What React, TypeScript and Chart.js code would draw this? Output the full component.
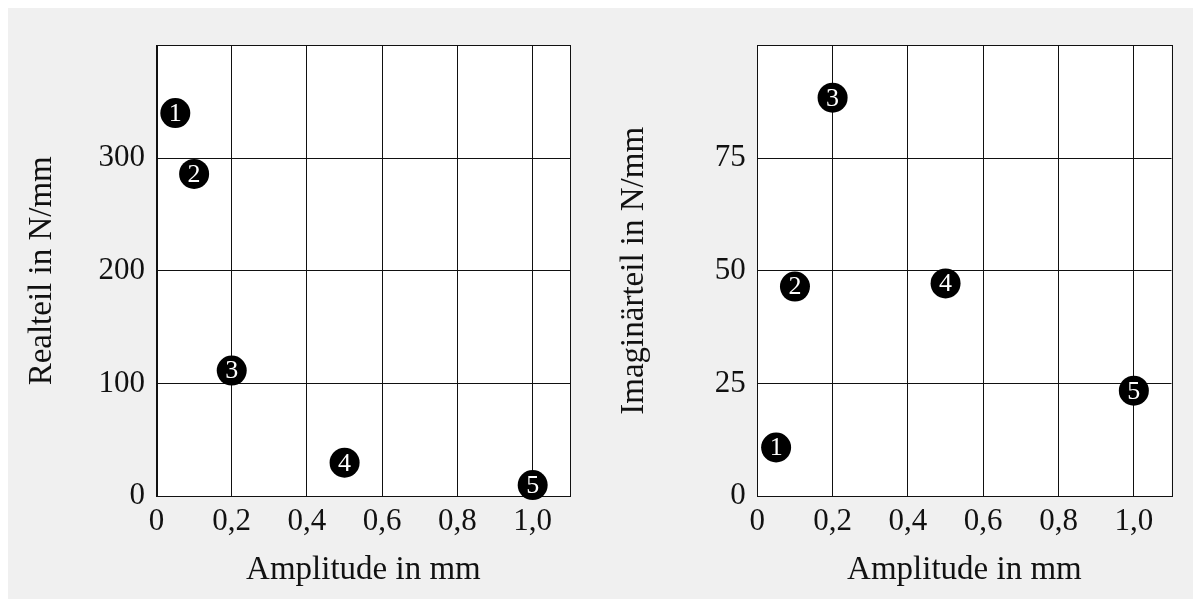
import React, { useEffect, useRef } from 'react';
import { Chart, registerables } from 'chart.js';

Chart.register(...registerables);

// ---- data ----
const POINT_LABELS = ['1', '2', '3', '4', '5'];
const AMPLITUDE = [0.05, 0.1, 0.2, 0.5, 1.0];
const REAL_PART = [340, 286, 111.5, 29.7, 9.9];
const IMAG_PART = [10.8, 46.5, 88.4, 47.2, 23.4];
const X_TICKS = [0, 0.2, 0.4, 0.6, 0.8, 1.0];
const REAL_TICKS = [0, 100, 200, 300];
const IMAG_TICKS = [0, 25, 50, 75];
const X_LABEL = 'Amplitude in mm';
const REAL_LABEL = 'Realteil in N/mm';
const IMAG_LABEL = 'Imaginärteil in N/mm';

const FONT = "'Liberation Serif', 'DejaVu Serif', serif";
const INK = '#111';

const fmtX = (v: number) => (v === 0 ? '0' : v.toFixed(1).replace('.', ','));

type PanelProps = {
  ys: number[];
  yTicks: number[];
  yMax: number;
  yLabel: string;
  yAxisWidth: number;
  width: number;
  height: number;
  rightPad: number;
  left: number;
};

function Panel({ ys, yTicks, yMax, yLabel, yAxisWidth, width, height, rightPad, left }: PanelProps) {
  const ref = useRef<HTMLCanvasElement | null>(null);
  useEffect(() => {
    if (!ref.current) return;
    const framePlugin = {
      id: 'frame',
      beforeDraw(chart: any) {
        const { ctx, chartArea: a } = chart;
        ctx.save();
        ctx.fillStyle = '#ffffff';
        ctx.fillRect(a.left, a.top, a.right - a.left, a.bottom - a.top);
        ctx.restore();
      },
      beforeDatasetsDraw(chart: any) {
        const { ctx, chartArea: a } = chart;
        ctx.save();
        ctx.strokeStyle = INK;
        ctx.lineWidth = 1;
        const l = Math.round(a.left) + 0.5;
        const r = Math.round(a.right) + 0.5;
        const t = Math.round(a.top) + 0.5;
        const b = Math.round(a.bottom) + 0.5;
        ctx.strokeRect(l, t, r - l, b - t);
        ctx.restore();
      },
    };
    const numberPlugin = {
      id: 'numbers',
      afterDatasetsDraw(chart: any) {
        const { ctx } = chart;
        const meta = chart.getDatasetMeta(0);
        ctx.save();
        ctx.fillStyle = '#ffffff';
        ctx.font = `26px ${FONT}`;
        ctx.textAlign = 'center';
        ctx.textBaseline = 'middle';
        meta.data.forEach((el: any, i: number) => {
          ctx.fillText(POINT_LABELS[i], el.x, el.y + 1);
        });
        ctx.restore();
      },
    };
    const chart = new Chart(ref.current, {
      type: 'scatter',
      data: {
        datasets: [
          {
            data: AMPLITUDE.map((x, i) => ({ x, y: ys[i] })),
            backgroundColor: '#000',
            borderWidth: 0,
            pointRadius: 15,
            pointHoverRadius: 15,
            clip: false as any,
          },
        ],
      },
      options: {
        responsive: false,
        maintainAspectRatio: false,
        animation: false,
        events: [],
        layout: { padding: { left: 0, right: rightPad, top: 37.4, bottom: 0 } },
        plugins: { legend: { display: false }, tooltip: { enabled: false } },
        scales: {
          x: {
            type: 'linear',
            min: 0,
            max: 1.1,
            afterBuildTicks: (s: any) => {
              s.ticks = X_TICKS.map((v) => ({ value: v }));
            },
            afterFit: (s: any) => {
              s.height = height - 488.2;
            },
            grid: { color: INK, lineWidth: 1, drawTicks: false },
            border: { display: true, color: INK, width: 1 },
            ticks: {
              padding: 6.7,
              color: INK,
              font: { family: FONT, size: 31 },
              maxRotation: 0,
              callback: (v: any) => fmtX(Number(v)),
            },
            title: {
              display: true,
              text: X_LABEL,
              color: INK,
              font: { family: FONT, size: 33 },
              padding: { top: 0, bottom: 4.6 },
            },
          },
          y: {
            type: 'linear',
            min: 0,
            max: yMax,
            afterBuildTicks: (s: any) => {
              s.ticks = yTicks.map((v) => ({ value: v }));
            },
            afterFit: (s: any) => {
              s.width = yAxisWidth;
            },
            grid: { color: INK, lineWidth: 1, drawTicks: false },
            border: { display: true, color: INK, width: 1 },
            ticks: {
              padding: 11.5,
              color: INK,
              font: { family: FONT, size: 31 },
              callback: (v: any) => String(v),
            },
            title: {
              display: true,
              text: yLabel,
              color: INK,
              font: { family: FONT, size: 33 },
              padding: { top: 14.1, bottom: 0 },
            },
          },
        },
      },
      plugins: [framePlugin, numberPlugin],
    } as any);
    return () => chart.destroy();
  }, []);
  return (
    <canvas
      ref={ref}
      width={width}
      height={height}
      style={{ position: 'absolute', left, top: 0, width, height }}
    />
  );
}

export default function App() {
  return (
    <div
      style={{
        position: 'relative',
        marginLeft: -2,
        width: 1194,
        height: 591,
        background: '#f0f0f0',
      }}
    >
      <Panel
        ys={REAL_PART}
        yTicks={REAL_TICKS}
        yMax={400}
        yLabel={REAL_LABEL}
        yAxisWidth={148.5}
        width={592}
        height={587}
        rightPad={29.7}
        left={2}
      />
      <Panel
        ys={IMAG_PART}
        yTicks={IMAG_TICKS}
        yMax={100}
        yLabel={IMAG_LABEL}
        yAxisWidth={157.3}
        width={593}
        height={587}
        rightPad={21.5}
        left={594}
      />
    </div>
  );
}
